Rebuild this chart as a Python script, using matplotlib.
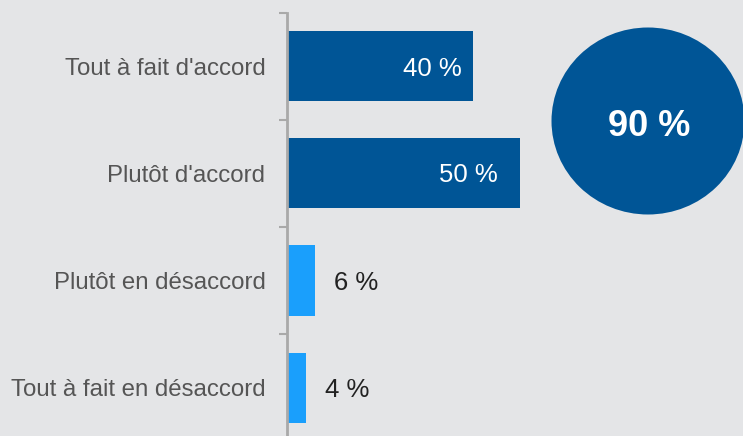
import matplotlib
matplotlib.use("Agg")
import matplotlib.pyplot as plt
from matplotlib.patches import Ellipse
from matplotlib.transforms import offset_copy

categories = ["Tout à fait d'accord", "Plutôt d'accord", "Plutôt en désaccord", "Tout à fait en désaccord"]
values = [40, 50, 6, 4]
labels = ["40 %", "50 %", "6 %", "4 %"]
total_label = "90 %"

plt.rcParams['font.family'] = ['Liberation Sans', 'DejaVu Sans']

BG = "#e4e5e7"
DARK = "#005596"
LIGHT = "#1a9ffc"
AXC = "#a9a9a9"

W, H = 743, 436
fig = plt.figure(figsize=(W / 100, H / 100), dpi=100, facecolor=BG)
band = 107
px_per = 4.66
ax_left = 287
ax_top = 13
ax = fig.add_axes([ax_left / W, (H - ax_top - 4 * band) / H,
                   (W - ax_left) / W, 4 * band / H])
ax.set_facecolor(BG)
ax.set_xlim(0, (W - ax_left) / px_per)
ax.set_ylim(3.5, -0.5)

colors = [DARK, DARK, LIGHT, LIGHT]
ypos = list(range(len(categories)))
ax.barh(ypos, values, height=70 / band, color=colors, zorder=2)

for y, v, lab, c in zip(ypos, values, labels, colors):
    if c == DARK:
        tr = offset_copy(ax.transData, fig=fig, x=0, y=-2, units="dots")
        ax.text(v * 0.78, y, lab, ha="center", va="center", color="white", fontsize=18.5, transform=tr)
    else:
        tr = offset_copy(ax.transData, fig=fig, x=19, y=-2, units="dots")
        ax.text(v, y, lab, ha="left", va="center", color="#222222", fontsize=18.5, transform=tr)

for s in ["top", "right", "bottom"]:
    ax.spines[s].set_visible(False)
ax.spines["left"].set_color(AXC)
ax.spines["left"].set_linewidth(2)
ax.set_xticks([])
ax.set_yticks([-0.5, 0.5, 1.5, 2.5, 3.5])
ax.set_yticklabels([])
ax.tick_params(axis="y", which="major", direction="out", length=6, width=1.5, color=AXC)
ax.set_yticks(ypos, minor=True)
ax.set_yticklabels(categories, minor=True, fontsize=17.3, color="#555555")
ax.tick_params(axis="y", which="minor", length=0, pad=15.5)
for t in ax.get_yticklabels(minor=True):
    t.set_va("center_baseline")

circ = Ellipse((648 / 100, (H - 121) / 100), 1.93, 1.87, transform=fig.dpi_scale_trans,
               facecolor=DARK, edgecolor="none")
fig.add_artist(circ)
fig.text(649 / W, (H - 126) / H, total_label, ha="center", va="center", color="white",
         fontsize=26, fontweight="bold")

fig.savefig("out.png", dpi=100, facecolor=BG)
